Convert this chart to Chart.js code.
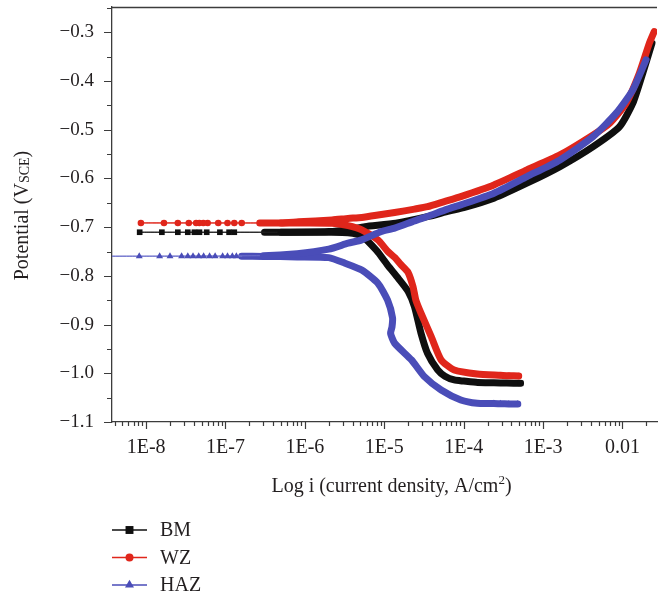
<!DOCTYPE html>
<html>
<head>
<meta charset="utf-8">
<title>Courbes de polarisation</title>
<script src="https://cdn.jsdelivr.net/npm/chart.js@4.4.1/dist/chart.umd.min.js"></script>
<style>
  html, body { margin: 0; padding: 0; background: #fff; }
  #wrap { width: 661px; height: 594px; }
</style>
</head>
<body>
<div id="wrap"><canvas id="tafel" width="661" height="594"></canvas></div>
<script>
// --- DONNÉES (i en A/cm2, E en V/ECS), ordre du balayage : cathodique -> Ecorr -> anodique ---
const seriesNames = ['BM', 'WZ', 'HAZ'];

const bmCurrent = [
  5.2e-4, 3.5e-4, 2.4e-4, 1.5e-4, 1.0e-4, 7.6e-5, 5.8e-5, 4.7e-5, 3.5e-5, 2.9e-5, 2.4e-5,
  2.0e-5, 1.5e-5, 1.1e-5, 8.0e-6, 5.2e-6, 3.5e-6, 2.0e-6, 1.0e-6, 5.5e-7, 3.1e-7,
  1.29e-7, 1.11e-7, 8.5e-8, 5.8e-8, 4.7e-8, 4.06e-8, 3.35e-8, 2.51e-8, 1.58e-8, 8.3e-9,
  5.0e-7, 2.0e-6, 3.5e-6, 5.7e-6, 1.4e-5, 3.6e-5, 6.5e-5, 1.0e-4, 2.4e-4, 6.25e-4,
  1.63e-3, 4.27e-3, 9.2e-3, 1.35e-2, 1.8e-2, 2.35e-2
];
const bmPotential = [
  -1.0205, -1.020, -1.0195, -1.019, -1.016, -1.0137, -1.006, -0.9932, -0.9589, -0.9178, -0.8632,
  -0.832, -0.805, -0.778, -0.748, -0.718, -0.7115, -0.7105, -0.7104, -0.7104, -0.7104,
  -0.7104, -0.7104, -0.7104, -0.7104, -0.7104, -0.7104, -0.7104, -0.7104, -0.7104, -0.7104,
  -0.7104, -0.709, -0.705, -0.699, -0.692, -0.678, -0.667, -0.660, -0.6405, -0.6097,
  -0.5756, -0.5345, -0.4935, -0.4454, -0.3838, -0.3222
];

const wzCurrent = [
  4.93e-4, 3.7e-4, 2.9e-4, 1.48e-4, 7.6e-5, 5.2e-5, 3.9e-5, 2.9e-5, 2.5e-5, 2.3e-5,
  1.98e-5, 1.6e-5, 1.35e-5, 1.11e-5, 8.3e-6, 5.2e-6, 3.5e-6, 2.2e-6, 8.0e-7, 2.7e-7,
  1.6e-7, 1.29e-7, 1.06e-7, 8.1e-8, 5.96e-8, 5.26e-8, 4.69e-8, 4.27e-8, 3.45e-8, 2.51e-8, 1.68e-8, 8.6e-9,
  5.0e-7, 8.3e-7, 2.2e-6, 3.5e-6, 5.2e-6, 9.2e-6, 1.35e-5, 2.4e-5, 3.5e-5, 5.7e-5,
  9.2e-5, 2.4e-4, 6.25e-4, 1.63e-3, 4.27e-3, 6.9e-3, 1.11e-2, 1.63e-2, 2.18e-2, 2.51e-2
];
const wzPotential = [
  -1.0055, -1.005, -1.004, -1.0014, -0.9932, -0.9726, -0.9248, -0.8767, -0.850, -0.822,
  -0.792, -0.776, -0.762, -0.750, -0.7262, -0.7056, -0.697, -0.692, -0.6915, -0.6913,
  -0.6913, -0.6913, -0.6913, -0.6913, -0.6913, -0.6913, -0.6913, -0.6913, -0.6913, -0.6913, -0.6913, -0.6913,
  -0.6913, -0.689, -0.6851, -0.682, -0.680, -0.674, -0.670, -0.663, -0.658, -0.6475,
  -0.6372, -0.6132, -0.5824, -0.5516, -0.5105, -0.4865, -0.4454, -0.3838, -0.3222, -0.2984
];

const hazCurrent = [
  4.8e-4, 3.7e-4, 2.9e-4, 2.4e-4, 1.48e-4, 9.2e-5, 5.2e-5, 3.2e-5, 2.2e-5, 1.35e-5, 1.2e-5,
  1.25e-5, 1.27e-5, 1.1e-5, 8.3e-6, 5.2e-6, 3.2e-6, 2.0e-6, 8.0e-7, 3.0e-7, 1.6e-7,
  1.37e-7, 1.22e-7, 1.06e-7, 9.2e-8, 7.4e-8, 6.3e-8, 5.3e-8, 4.6e-8, 3.9e-8, 3.35e-8,
  2.8e-8, 2.0e-8, 1.48e-8, 8.2e-9, 2.0e-9,
  3.0e-7, 8.0e-7, 2.0e-6, 3.5e-6, 5.2e-6, 9.2e-6, 1.35e-5, 2.4e-5, 3.5e-5, 6.25e-5,
  9.2e-5, 2.4e-4, 6.25e-4, 1.63e-3, 4.27e-3, 8.34e-3, 1.35e-2, 1.98e-2
];
const hazPotential = [
  -1.063, -1.063, -1.0625, -1.062, -1.0616, -1.0547, -1.0342, -1.0069, -0.9726, -0.9383, -0.918,
  -0.905, -0.886, -0.850, -0.815, -0.788, -0.774, -0.7625, -0.761, -0.760, -0.7597,
  -0.7597, -0.7597, -0.7597, -0.7597, -0.7597, -0.7597, -0.7597, -0.7597, -0.7597, -0.7597,
  -0.7597, -0.7597, -0.7597, -0.7597, -0.7597,
  -0.7585, -0.7545, -0.745, -0.733, -0.726, -0.709, -0.702, -0.687, -0.678, -0.663,
  -0.6543, -0.6303, -0.5962, -0.5619, -0.514, -0.4659, -0.4181, -0.3565
];

// --- AXES ---
const xTickValues = [1e-8, 1e-7, 1e-6, 1e-5, 1e-4, 1e-3, 1e-2];
const xTickLabels = ['1E-8', '1E-7', '1E-6', '1E-5', '1E-4', '1E-3', '0.01'];
const yTickValues = [-1.1, -1.0, -0.9, -0.8, -0.7, -0.6, -0.5, -0.4, -0.3];
const yTickLabels = ['\u22121.1', '\u22121.0', '\u22120.9', '\u22120.8', '\u22120.7', '\u22120.6', '\u22120.5', '\u22120.4', '\u22120.3'];

const xMin = 3.72e-9, xMax = 0.0272;
const yMin = -1.1, yMax = -0.248;

const textColor = '#231f20';
const axisColor = '#3c3c3c';
const serif = "'Liberation Serif', 'Times New Roman', serif";

const toPoints = (cur, pot) => cur.map((c, k) => ({ x: c, y: pot[k] }));

// trait fin + marqueurs sous bandFrom, bande épaisse au-dessus
function curve(label, cur, pot, color, thin, style, radius, bandFrom, endMarks, order) {
  const inBand = ctx => {
    const d = ctx.chart.data.datasets[ctx.datasetIndex].data;
    return d[ctx.p0DataIndex].x >= bandFrom && d[ctx.p1DataIndex].x >= bandFrom;
  };
  return {
    label, order,
    data: toPoints(cur, pot),
    borderColor: color,
    backgroundColor: color,
    borderWidth: 7,
    borderCapStyle: 'round',
    borderJoinStyle: 'round',
    tension: 0.2,
    pointStyle: style,
    pointBackgroundColor: color,
    pointBorderWidth: 0,
    pointRadius: ctx => (ctx.raw.x < bandFrom || ctx.dataIndex < endMarks) ? radius : 0,
    pointHoverRadius: 0,
    segment: {
      borderWidth: ctx => inBand(ctx) ? 7 : 1,
      borderColor: ctx => inBand(ctx) ? color : thin
    }
  };
}

const datasets = [
  curve(seriesNames[0], bmCurrent, bmPotential, '#0f0f0f', '#202020', 'rect', 4, 3.0e-7, 1, 3),
  curve(seriesNames[1], wzCurrent, wzPotential, '#e0261b', '#e0261b', 'circle', 3.3, 2.6e-7, 3, 2),
  curve(seriesNames[2], hazCurrent, hazPotential, '#4a4db8', '#6f72cc', 'triangle', 4, 1.5e-7, 4, 1)
];

// --- DÉCOR : graduations, cadre, titres, légende ---
const decor = {
  id: 'decor',
  afterDraw(chart) {
    const { ctx, chartArea: a, scales: { x, y } } = chart;
    ctx.save();
    ctx.strokeStyle = axisColor;
    ctx.lineWidth = 1.3;

    ctx.beginPath();
    ctx.moveTo(a.left, a.top + 0.5);
    ctx.lineTo(a.right, a.top + 0.5);
    ctx.stroke();

    ctx.lineWidth = 1.2;
    ctx.beginPath();
    for (let e = -9; e <= -1; e++) {
      for (let m = 1; m <= 9; m++) {
        const v = m * Math.pow(10, e);
        if (v < x.min || v > x.max) continue;
        const px = Math.round(x.getPixelForValue(v)) + 0.5;
        ctx.moveTo(px, a.bottom);
        ctx.lineTo(px, a.bottom + (m === 1 ? 7 : 4));
      }
    }
    for (let k = 0; k <= 18; k++) {
      const v = -1.1 + k * 0.05;
      if (v > y.max) break;
      const py = Math.round(y.getPixelForValue(v)) + 0.5;
      ctx.moveTo(a.left - (k % 2 === 0 ? 8 : 5), py);
      ctx.lineTo(a.left, py);
    }
    ctx.stroke();

    ctx.fillStyle = textColor;
    ctx.textBaseline = 'alphabetic';

    // titre X avec exposant
    const big = '20px ' + serif, small = '13px ' + serif;
    const xa = 'Log i (current density, A/cm', xb = '2', xc = ')';
    ctx.font = big; const wa = ctx.measureText(xa).width, wc = ctx.measureText(xc).width;
    ctx.font = small; const wb = ctx.measureText(xb).width;
    let cx = 391.5 - (wa + wb + wc) / 2;
    ctx.textAlign = 'left';
    ctx.font = big; ctx.fillText(xa, cx, 492);
    ctx.font = small; ctx.fillText(xb, cx + wa, 484);
    ctx.font = big; ctx.fillText(xc, cx + wa + wb, 492);

    // titre Y avec indice SCE
    ctx.save();
    ctx.translate(28, 215.5);
    ctx.rotate(-Math.PI / 2);
    const ya = 'Potential (V', yb = 'SCE', yc = ')';
    const yFontSmall = '14px ' + serif;
    ctx.font = big; const ha = ctx.measureText(ya).width, hc = ctx.measureText(yc).width;
    ctx.font = yFontSmall; const hb = ctx.measureText(yb).width;
    let cy = -(ha + hb + hc) / 2;
    ctx.font = big; ctx.fillText(ya, cy, 0);
    ctx.font = yFontSmall; ctx.fillText(yb, cy + ha, 1);
    ctx.font = big; ctx.fillText(yc, cy + ha + hb, 0);
    ctx.restore();

    // légende
    const rows = [530, 557.5, 585];
    chart.data.datasets.forEach((ds, k) => {
      const ly = rows[k];
      ctx.strokeStyle = ds.borderColor;
      ctx.lineWidth = 1.4;
      ctx.beginPath();
      ctx.moveTo(112, ly);
      ctx.lineTo(147, ly);
      ctx.stroke();
      ctx.fillStyle = ds.borderColor;
      Chart.helpers.drawPoint(ctx, { pointStyle: ds.pointStyle, rotation: 0, radius: ds.pointStyle === 'rect' ? 5.6 : ds.pointStyle === 'circle' ? 4 : 5.2, borderWidth: 0 }, 129.5, ly);
      ctx.fillStyle = textColor;
      ctx.font = big;
      ctx.textBaseline = 'middle';
      ctx.fillText(ds.label, 160, ly + 1);
    });
    ctx.restore();
  }
};

// --- GRAPHIQUE ---
new Chart(document.getElementById('tafel'), {
  type: 'line',
  data: { datasets },
  options: {
    responsive: false,
    animation: false,
    events: [],
    layout: { padding: { top: 7, right: 0, bottom: 92, left: 0 } },
    plugins: { legend: { display: false }, tooltip: { enabled: false } },
    scales: {
      x: {
        type: 'logarithmic',
        min: xMin, max: xMax,
        grid: { display: false, drawTicks: false },
        border: { display: true, color: axisColor, width: 1.3 },
        afterBuildTicks: s => { s.ticks = xTickValues.map(v => ({ value: v })); },
        afterFit: s => { s.height = 80; s.paddingLeft = 0; s.paddingRight = 0; },
        ticks: {
          autoSkip: false, maxRotation: 0, minRotation: 0, padding: 14,
          color: textColor, font: { family: serif, size: 20 },
          callback: (v, i) => xTickLabels[i]
        }
      },
      y: {
        type: 'linear',
        min: yMin, max: yMax,
        grid: { display: false, drawTicks: false },
        border: { display: true, color: axisColor, width: 1.3 },
        afterBuildTicks: s => { s.ticks = yTickValues.map(v => ({ value: v })); },
        afterFit: s => { s.width = 112; s.paddingTop = 0; s.paddingBottom = 0; },
        ticks: {
          padding: 18,
          color: textColor, font: { family: serif, size: 19 },
          callback: (v, i) => yTickLabels[i]
        }
      }
    }
  },
  plugins: [decor]
});
</script>
</body>
</html>
